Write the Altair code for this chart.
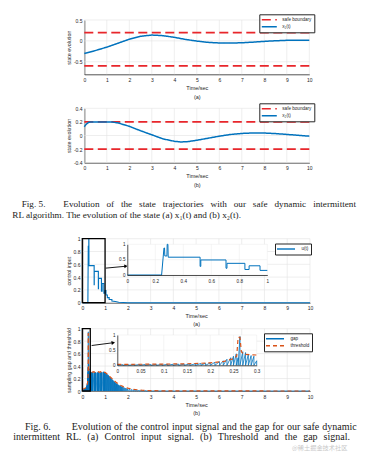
import altair as alt
import pandas as pd

W, H = 351, 447
FONT = "Liberation Sans"
SERIF = "Liberation Serif"
AX = "#262626"
BLUE = "#0072BD"
RED = "#E8262B"
ORANGE = "#D95319"
GRIDC = "#E2E2E2"

# ---------------- data ----------------
time_ticks = [0, 1, 2, 3, 4, 5, 6, 7, 8, 9, 10]

# Fig 5(a): state x1(t)
x1_t = [0, 0.5, 1, 1.5, 2, 2.5, 3, 3.5, 4, 4.5, 5, 5.5, 6, 6.5, 7, 7.5, 8, 8.5, 9, 9.5, 10]
x1_v = [-0.30, -0.23, -0.15, -0.055, 0.04, 0.11, 0.14, 0.125, 0.085, 0.035, -0.005, -0.035,
        -0.05, -0.052, -0.045, -0.03, -0.012, 0.003, 0.013, 0.018, 0.018]
safe1 = [0.2, -0.6]
y1_ticks = [-0.5, 0, 0.5]

# Fig 5(b): state x2(t)
x2_t = [0, 0.1, 0.2, 0.3, 1.2, 1.5, 2, 2.5, 3, 3.5, 4, 4.3, 4.6, 5, 5.5, 6, 6.5, 7, 7.5, 8,
        8.5, 9, 9.5, 10]
x2_v = [0.13, 0.17, 0.195, 0.2, 0.2, 0.185, 0.135, 0.07, 0.01, -0.05, -0.085, -0.095, -0.09,
        -0.07, -0.04, -0.01, 0.015, 0.03, 0.038, 0.036, 0.028, 0.016, 0.003, -0.01]
safe2 = [0.2, -0.2]
y2_ticks = [-0.4, -0.2, 0, 0.2, 0.4]

# Fig 6(a): control input u(t)
u_t = [0, 0.245, 0.262, 0.266, 0.268, 0.283, 0.285, 0.29, 0.292, 0.52, 0.52, 0.525, 0.525,
       0.705, 0.705, 0.712, 0.712, 0.84, 0.84, 0.87, 0.87, 0.948, 0.948, 1.0, 1.005, 1.04,
       1.04, 1.1, 1.1, 1.18, 1.18, 1.3, 1.3, 1.45, 1.6, 2.0, 10]
u_v = [0, 0, 0.88, 0.88, 0.62, 0.62, 1.0, 1.0, 0.58, 0.58, 0.28, 0.28, 0.49, 0.49, 0.22,
       0.22, 0.38, 0.38, 0.18, 0.18, 0.30, 0.30, 0.15, 0.15, 0.19, 0.19, 0.12, 0.12, 0.08,
       0.08, 0.05, 0.05, 0.025, 0.02, 0.008, 0.0, 0]
unit_ticks = [0, 0.2, 0.4, 0.6, 0.8, 1]
inset3_xticks = [0, 0.2, 0.4, 0.6, 0.8, 1]
inset_yticks = [0, 0.5, 1]

# Fig 6(b): sampling gap (sawtooth: trigger instants and peak before next trigger)
gap_t = [0, 0.012, 0.024, 0.036, 0.048, 0.06, 0.072, 0.084, 0.096, 0.108,
         0.12, 0.132, 0.144, 0.156, 0.168, 0.18, 0.19, 0.2, 0.21, 0.22,
         0.228, 0.236, 0.244, 0.25, 0.256, 0.26, 0.264, 0.27, 0.276, 0.282,
         0.288, 0.294, 0.30, 0.32, 0.34, 0.36, 0.38, 0.40, 0.42, 0.44,
         0.46, 0.52, 0.54, 0.56, 0.58, 0.60, 0.66, 0.68, 0.70, 0.72,
         0.74, 0.80, 0.82, 0.84, 0.86, 0.92, 0.94, 0.96, 0.98, 1.00,
         1.03, 1.06, 1.09, 1.12, 1.15, 1.18, 1.21, 1.24, 1.27, 1.30,
         1.33, 1.36, 1.39, 1.42, 1.45, 1.48, 1.51, 1.54, 1.57, 1.60,
         1.64, 1.68, 1.72, 1.76, 1.80, 1.85, 1.90, 1.95, 2.00, 2.08,
         2.16, 2.24, 2.32, 2.40, 2.50, 2.60, 2.70, 2.80, 3.00, 3.30,
         3.60, 4.00, 5.00, 6.00, 7.00, 8.00, 9.00, 10.0]
gap_p = [0.020, 0.020, 0.022, 0.025, 0.025, 0.028, 0.030, 0.030, 0.033, 0.035,
         0.038, 0.040, 0.045, 0.050, 0.060, 0.070, 0.080, 0.100, 0.120, 0.150,
         0.200, 0.250, 0.300, 0.380, 0.250, 0.950, 0.450, 0.420, 0.360, 0.320,
         0.300, 0.150, 0.250, 0.280, 0.300, 0.290, 0.300, 0.300, 0.290, 0.300,
         0.300, 0.290, 0.300, 0.300, 0.290, 0.300, 0.290, 0.300, 0.300, 0.290,
         0.300, 0.290, 0.300, 0.300, 0.300, 0.310, 0.300, 0.300, 0.300, 0.290,
         0.280, 0.270, 0.260, 0.250, 0.240, 0.225, 0.210, 0.200, 0.190, 0.178,
         0.167, 0.156, 0.146, 0.136, 0.127, 0.118, 0.110, 0.102, 0.095, 0.087,
         0.079, 0.072, 0.065, 0.059, 0.052, 0.046, 0.040, 0.035, 0.030, 0.025,
         0.020, 0.017, 0.014, 0.011, 0.009, 0.007, 0.006, 0.005, 0.004, 0.003,
         0.002, 0.002, 0.001, 0.001, 0.001, 0.001, 0.001]
assert len(gap_p) == len(gap_t) - 1

thr_t = [0, 0.05, 0.1, 0.15, 0.2, 0.23, 0.25, 0.257, 0.26, 0.264, 0.267, 0.272, 0.3, 0.35,
         0.4, 0.45, 0.5, 0.55, 0.6, 0.65, 0.7, 0.75, 0.8, 0.85, 0.9, 0.95, 1.0, 1.1, 1.2, 1.3,
         1.4, 1.5, 1.6, 1.7, 1.8, 1.9, 2.0, 2.2, 2.4, 2.6, 2.8, 3.0, 3.5, 4.0, 5.0, 10.0]
thr_v = [0.03, 0.035, 0.04, 0.05, 0.08, 0.13, 0.22, 0.3, 0.92, 0.92, 0.45, 0.36, 0.34, 0.32,
         0.31, 0.3, 0.31, 0.3, 0.31, 0.3, 0.31, 0.3, 0.31, 0.3, 0.31, 0.3, 0.3, 0.27, 0.235,
         0.2, 0.165, 0.135, 0.108, 0.087, 0.07, 0.056, 0.045, 0.03, 0.02, 0.013, 0.009,
         0.006, 0.003, 0.002, 0.001, 0.0]
assert len(thr_t) == len(thr_v)
inset4_xticks = [0, 0.05, 0.1, 0.15, 0.2, 0.25, 0.3]

# zoom boxes [x0, x1, y0, y1] and arrows (x list, y list), in main-panel data units
box3 = [0, 1, 0, 1]
box4 = [0, 0.35, 0, 1]
arrow3 = ([1.03, 1.92], [0.54, 0.57])
arrow4 = ([0.41, 1.36], [0.73, 0.775])

legend1 = ["safe boundary", "x\u2081(t)"]
legend2 = ["safe boundary", "x\u2082(t)"]
legend3 = ["u(t)"]
legend4 = ["gap", "threshold"]

cap5_label = "Fig. 5."
cap5_line1 = "Evolution of the state trajectories with our safe dynamic intermittent"
cap5_line2 = "RL algorithm. The evolution of the state (a) x\u2081(t) and (b) x\u2082(t)."
cap6_label = "Fig. 6."
cap6_line1 = "Evolution of the control input signal and the gap for our safe dynamic"
cap6_line2 = "intermittent RL. (a) Control input signal. (b) Threshold and the gap signal."
watermark = "@稀土掘金技术社区"

# ---------------- tables ----------------
def series_df(ts, vs, name, grp):
    return pd.DataFrame({"t": ts, "v": vs, "s": name, "g": grp, "i": range(len(ts))})

def safe_df(levels, name):
    rows = []
    for k, lv in enumerate(levels):
        rows.append({"t": 0, "v": lv, "s": name, "g": f"b{k}", "i": 0})
        rows.append({"t": 10, "v": lv, "s": name, "g": f"b{k}", "i": 1})
    return pd.DataFrame(rows)

gap_rows = []
for k in range(len(gap_p)):
    gap_rows.append((gap_t[k], 0.0))
    gap_rows.append((gap_t[k + 1], gap_p[k]))
gap_df = pd.DataFrame({"t": [r[0] for r in gap_rows], "v": [r[1] for r in gap_rows],
                       "s": "gap", "i": range(len(gap_rows))})
thr_df = series_df(thr_t, thr_v, "threshold", "thr")
u_df = series_df(u_t, u_v, "u(t)", "u")

# ---------------- helpers ----------------
def lin(dom, rng):
    return alt.Scale(domain=dom, range=rng, zero=False, nice=False)


def xaxis(bottom, values, size=5.0, title=None, cx=0, ty=11.5, lh=8.5, z=0):
    kw = dict(orient="bottom", offset=bottom - H, values=values, labelExpr="'' + datum.value",
              grid=False, ticks=False, domainColor=AX, domainWidth=0.8, labelColor=AX,
              labelFont=FONT, labelFontSize=size, labelPadding=3, labelFlush=False,
              labelOverlap=False, zindex=z)
    if title is None:
        kw["title"] = None
    else:
        kw.update(title=title, titleX=cx, titleY=ty, titleFont=FONT, titleFontSize=5.5,
                  titleFontWeight="normal", titleColor=AX, titleBaseline="top",
                  titleAlign="center", titleLineHeight=lh)
    return alt.Axis(**kw)


def yaxis(left, values, size=5.0, title=None, tx=-16, cy=0, z=0):
    kw = dict(orient="left", offset=-left, values=values, labelExpr="'' + datum.value",
              grid=False, ticks=False, domainColor=AX, domainWidth=0.8, labelColor=AX,
              labelFont=FONT, labelFontSize=size, labelPadding=2.3, labelFlush=False,
              labelOverlap=False, zindex=z)
    if title is None:
        kw["title"] = None
    else:
        kw.update(title=title, titleX=tx, titleY=cy, titleFont=FONT, titleFontSize=5.3,
                  titleFontWeight="normal", titleColor=AX, titleBaseline="middle",
                  titleAlign="center", titleAngle=270)
    return alt.Axis(**kw)


def make_legend(x, y, sym="M-3,0H3", so=4.5, lo=9.5):
    return alt.Legend(title=None, orient="none", legendX=x, legendY=y, padding=2,
                      fillColor="white", strokeColor=AX, cornerRadius=0, labelFont=FONT,
                      labelFontSize=4.6, labelColor=AX, symbolType=sym, symbolSize=25,
                      symbolStrokeWidth=1.4, symbolOffset=so, labelOffset=lo, rowPadding=0,
                      labelLimit=200)


class P:
    def __init__(self, xs, ys, ax, ay, xdom, ydom):
        self.xs, self.ys, self.ax, self.ay = xs, ys, ax, ay
        self.xdom, self.ydom = xdom, ydom

    def X(self, f):
        return alt.X(f, scale=self.xs, axis=self.ax)

    def Y(self, f):
        return alt.Y(f, scale=self.ys, axis=self.ay)

    def grid(self, xt, yt, color=GRIDC, width=0.6):
        vg = alt.Chart(pd.DataFrame({"g": xt})).mark_rule(color=color, strokeWidth=width).encode(
            x=self.X("g:Q"),
            y=alt.YDatum(self.ydom[0], type="quantitative", scale=self.ys, axis=self.ay),
            y2=alt.Y2Datum(self.ydom[1]))
        hg = alt.Chart(pd.DataFrame({"g": yt})).mark_rule(color=color, strokeWidth=width).encode(
            y=self.Y("g:Q"),
            x=alt.XDatum(self.xdom[0], type="quantitative", scale=self.xs, axis=self.ax),
            x2=alt.X2Datum(self.xdom[1]))
        return [vg, hg]

    def box(self, b):
        df = pd.DataFrame({"x0": [b[0]], "x1": [b[1]], "y0": [b[2]], "y1": [b[3]]})
        return alt.Chart(df).mark_rect(fillOpacity=0, stroke="black", strokeWidth=1.3).encode(
            x=self.X("x0:Q"), x2="x1:Q", y=self.Y("y0:Q"), y2="y1:Q")

    def arrow(self, a, angle):
        df = pd.DataFrame({"x": a[0], "y": a[1], "i": [0, 1]})
        ln = alt.Chart(df).mark_line(color="black", strokeWidth=0.9).encode(
            x=self.X("x:Q"), y=self.Y("y:Q"), order="i:Q")
        hd = alt.Chart(df[df.i == 1]).mark_point(shape="triangle-right", filled=True, size=16,
                                                 color="black", opacity=1, angle=angle).encode(
            x=self.X("x:Q"), y=self.Y("y:Q"))
        return [ln, hd]

    def bg(self):
        df = pd.DataFrame({"x0": [self.xdom[0]], "x1": [self.xdom[1]],
                           "y0": [self.ydom[0]], "y1": [self.ydom[1]]})
        return alt.Chart(df).mark_rect(fill="white").encode(
            x=self.X("x0:Q"), x2="x1:Q", y=self.Y("y0:Q"), y2="y1:Q")


def state_panel(px, py, ydom, yticks, ts, vs, safe, names, axtitle, legxy):
    xs, ys = lin([0, 10], px), lin(ydom, py)
    ax = xaxis(py[0], time_ticks, title=axtitle[0], cx=(px[0] + px[1]) / 2, ty=axtitle[1])
    ay = yaxis(px[0], yticks, title="state evolution", tx=-16, cy=(py[0] + py[1]) / 2)
    p = P(xs, ys, ax, ay, [0, 10], ydom)
    cs = alt.Scale(domain=names, range=[RED, BLUE])
    ds = alt.Scale(domain=names, range=[[9, 4.5], [1, 0]])
    leg = make_legend(*legxy)
    sb = alt.Chart(safe_df(safe, names[0])).mark_line(strokeWidth=1.7).encode(
        x=p.X("t:Q"), y=p.Y("v:Q"), color=alt.Color("s:N", scale=cs, legend=leg),
        strokeDash=alt.StrokeDash("s:N", scale=ds, legend=leg), detail="g:N", order="i:Q")
    cv = alt.Chart(series_df(ts, vs, names[1], "c")).mark_line(strokeWidth=1.5).encode(
        x=p.X("t:Q"), y=p.Y("v:Q"), color=alt.Color("s:N", scale=cs, legend=leg),
        strokeDash=alt.StrokeDash("s:N", scale=ds, legend=leg), detail="g:N", order="i:Q")
    return alt.layer(*p.grid(time_ticks, yticks), sb, cv)


# ---------------- Fig 5 ----------------
P1 = state_panel([76.3, 301.3], [66.3, 12.0], [-0.8, 0.5], y1_ticks, x1_t, x1_v, safe1,
                 legend1, (["Time/sec", "(a)"], 11.3), (251.3, 6.3))
P2 = state_panel([76.3, 301.3], [154.7, 100.3], [-0.4, 0.4], y2_ticks, x2_t, x2_v, safe2,
                 legend2, (["Time/sec", "(b)"], 11.0), (251.3, 95.3))

# ---------------- Fig 6(a) ----------------
p3x, p3y = [74.3, 302.0], [294.7, 230.7]
p3 = P(lin([0, 10], p3x), lin([0, 1], p3y),
       xaxis(p3y[0], time_ticks, title=["Time/sec", "(a)"], cx=(p3x[0] + p3x[1]) / 2, ty=10.5),
       yaxis(p3x[0], unit_ticks, title="control input", tx=-14, cy=(p3y[0] + p3y[1]) / 2),
       [0, 10], [0, 1])
cs3 = alt.Scale(domain=legend3, range=[BLUE])
leg3 = make_legend(267.0, 235.5, sym="M-3.6,0H3.6", so=5.5, lo=12)
u_main = alt.Chart(u_df).mark_line(strokeWidth=1.1).encode(
    x=p3.X("t:Q"), y=p3.Y("v:Q"), color=alt.Color("s:N", scale=cs3, legend=leg3), order="i:Q")
P3 = alt.layer(*p3.grid(time_ticks, unit_ticks), u_main, p3.box(box3), *p3.arrow(arrow3, 355))

i3x, i3y = [119.3, 259.3], [267.0, 236.3]
i3 = P(lin([0, 1], i3x), lin([0, 1], i3y),
       xaxis(i3y[0], inset3_xticks, size=4.6, z=1), yaxis(i3x[0], inset_yticks, size=4.6, z=1),
       [0, 1], [0, 1])
u_in = alt.Chart(u_df[u_df.t <= 1.0]).mark_line(strokeWidth=1.0, color=BLUE).encode(
    x=i3.X("t:Q"), y=i3.Y("v:Q"), order="i:Q")
I3 = alt.layer(i3.bg(), *i3.grid(inset3_xticks, inset_yticks, color="#EBEBEB", width=0.5), u_in)

# ---------------- Fig 6(b) ----------------
p4x, p4y = [74.3, 302.0], [383.0, 320.7]
p4 = P(lin([0, 10], p4x), lin([0, 1], p4y),
       xaxis(p4y[0], time_ticks, title=["Time/sec", "(b)"], cx=(p4x[0] + p4x[1]) / 2, ty=11.5,
             lh=7.8),
       yaxis(p4x[0], unit_ticks, title="sampling gap and threshold", tx=-14,
             cy=(p4y[0] + p4y[1]) / 2),
       [0, 10], [0, 1])
cs4 = alt.Scale(domain=legend4, range=[BLUE, ORANGE])
ds4 = alt.Scale(domain=legend4, range=[[1, 0], [4, 3]])
leg4 = make_legend(256.0, 325.3, sym="M-3.6,0H3.6", so=5.5, lo=12)
gap_main = alt.Chart(gap_df).mark_line(strokeWidth=0.8).encode(
    x=p4.X("t:Q"), y=p4.Y("v:Q"), color=alt.Color("s:N", scale=cs4, legend=leg4),
    strokeDash=alt.StrokeDash("s:N", scale=ds4, legend=leg4), order="i:Q")
thr_main = alt.Chart(thr_df).mark_line(strokeWidth=1.2).encode(
    x=p4.X("t:Q"), y=p4.Y("v:Q"), color=alt.Color("s:N", scale=cs4, legend=leg4),
    strokeDash=alt.StrokeDash("s:N", scale=ds4, legend=leg4), order="i:Q")
P4 = alt.layer(*p4.grid(time_ticks, unit_ticks), gap_main, thr_main, p4.box(box4),
               *p4.arrow(arrow4, 353))

i4x, i4y = [109.3, 248.7], [357.3, 327.0]
i4 = P(lin([0, 0.3], i4x), lin([0, 1], i4y),
       xaxis(i4y[0], inset4_xticks, size=4.6, z=1), yaxis(i4x[0], inset_yticks, size=4.6, z=1),
       [0, 0.3], [0, 1])
gap_in = alt.Chart(gap_df[gap_df.t <= 0.3 + 1e-9]).mark_line(strokeWidth=0.8, color=BLUE).encode(
    x=i4.X("t:Q"), y=i4.Y("v:Q"), order="i:Q")
thr_in = alt.Chart(thr_df[thr_df.t <= 0.3 + 1e-9]).mark_line(
    strokeWidth=1.2, color=ORANGE, strokeDash=[4, 3]).encode(
    x=i4.X("t:Q"), y=i4.Y("v:Q"), order="i:Q")
I4 = alt.layer(i4.bg(), *i4.grid(inset4_xticks, inset_yticks, color="#EBEBEB", width=0.5),
               gap_in, thr_in)

# ---------------- captions (justified like the printed page) ----------------
TIMES_W = {" ": 250, ".": 250, ",": 250, "(": 333, ")": 333, "a": 444, "b": 500, "c": 444,
           "d": 500, "e": 444, "f": 333, "g": 500, "h": 500, "i": 278, "j": 278, "k": 500,
           "l": 278, "m": 778, "n": 500, "o": 500, "p": 500, "q": 500, "r": 333, "s": 389,
           "t": 278, "u": 500, "v": 500, "w": 722, "x": 500, "y": 500, "z": 444, "A": 722,
           "C": 667, "E": 611, "F": 556, "L": 611, "R": 667, "T": 611, "\u2081": 420,
           "\u2082": 420}


def word_w(w, size):
    return sum(TIMES_W.get(c, 500) for c in w) * size / 1000.0


def txt(s, x, y, size, font=SERIF, align="left", color="#1a1a1a"):
    return alt.Chart(pd.DataFrame({"s": [s]})).mark_text(
        font=font, fontSize=size, align=align, baseline="middle", color=color).encode(
        text="s:N", x=alt.value(x), y=alt.value(y))


def justified(line, x0, x1, y, size):
    words = line.split()
    widths = [word_w(w, size) for w in words]
    gap = (x1 - x0 - sum(widths)) / (len(words) - 1)
    out, x = [], x0
    for k, (w, wd) in enumerate(zip(words, widths)):
        if k == len(words) - 1:
            out.append(txt(w, x1, y, size, align="right"))
        else:
            out.append(txt(w, x, y, size))
        x += wd + gap
    return out


S5, S6 = 9.2, 10.0
texts = [txt(cap5_label, 13.7, 195.5, S5)]
texts += justified(cap5_line1, 55.3, 348.0, 195.5, S5)
texts += [txt(cap5_line2, 4.3, 207.0, S5)]
texts += [txt(cap6_label, 17.0, 418.7, S6)]
texts += justified(cap6_line1, 63.7, 348.7, 418.7, S6)
texts += justified(cap6_line2, 5.3, 342.0, 429.3, S6)
texts += [txt(watermark, 284.0, 440.0, 6.2, font="Noto Sans CJK SC", color="#C8C8C8")]

chart = alt.layer(P1, P2, P3, I3, P4, I4, *texts).resolve_scale(
    x="independent", y="independent", color="independent", strokeDash="independent"
).resolve_axis(x="independent", y="independent").resolve_legend(
    color="independent", strokeDash="independent"
).properties(width=W, height=H, padding=0, autosize=alt.AutoSizeParams(type="none"),
             background="white").configure_view(stroke=None)

chart.save("out.html", embed_options={"renderer": "svg", "actions": False})
